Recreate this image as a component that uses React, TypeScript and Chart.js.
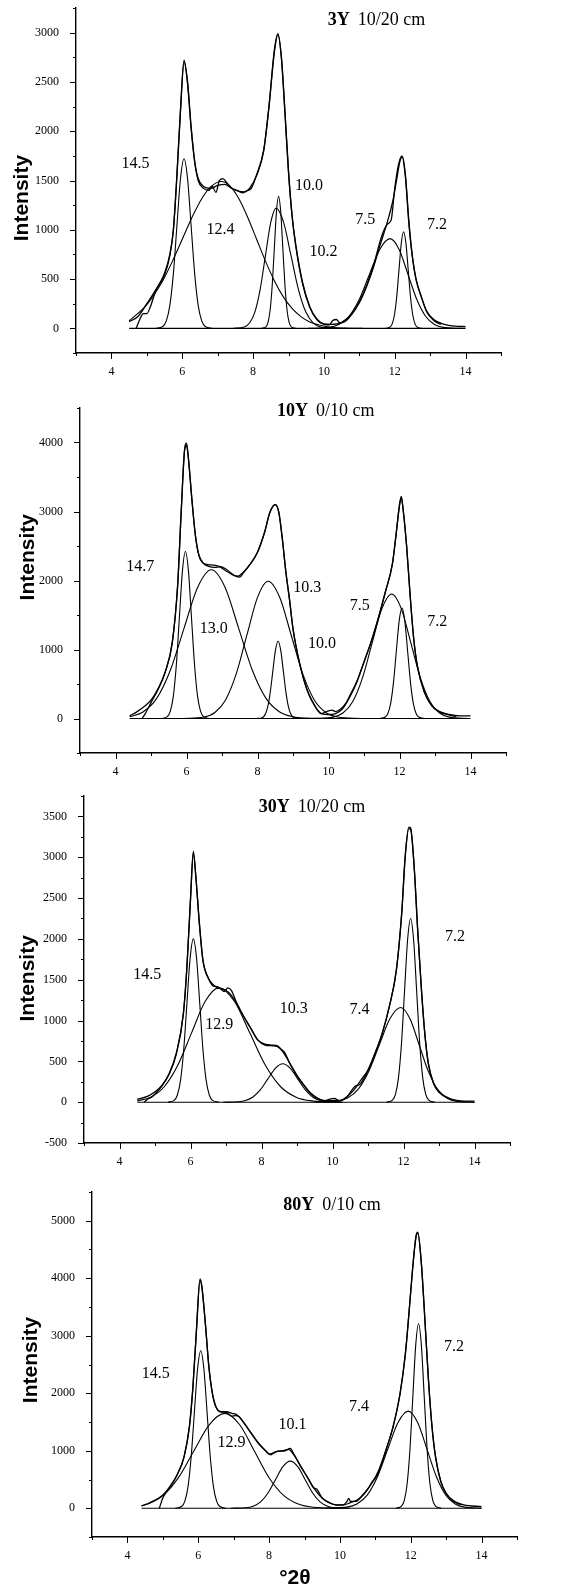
import React, { useEffect, useRef } from 'react';
import { Chart, registerables } from 'chart.js';
Chart.register(...registerables);

type P = [number, number];
type L = [string, number, number];

// ---------- Panel 1 : 3Y 10/20 cm ----------
const p1Title: [string, string] = ['3Y', '10/20 cm'];
const p1YLabels = [0, 500, 1000, 1500, 2000, 2500, 3000];
const p1Meas: P[] = [[4.7,0],[4.8,90],[4.9,150],[5.0,150],[5.1,220],[5.25,380],[5.5,540],[5.65,740],[5.75,1000],[5.85,1560],[5.95,2220],[6.05,2720],[6.15,2480],[6.25,2030],[6.35,1690],[6.45,1500],[6.6,1420],[6.75,1400],[6.85,1440],[6.95,1380],[7.05,1500],[7.15,1520],[7.25,1480],[7.4,1420],[7.55,1400],[7.7,1375],[7.85,1400],[7.95,1420],[8.1,1560],[8.3,1810],[8.45,2260],[8.6,2820],[8.7,2990],[8.8,2740],[8.9,2180],[9.0,1580],[9.1,1140],[9.2,850],[9.4,450],[9.6,215],[9.8,90],[10.0,40],[10.15,35],[10.25,80],[10.35,90],[10.45,55],[10.6,70],[10.8,150],[11.0,270],[11.2,430],[11.4,640],[11.6,900],[11.7,1000],[11.8,1060],[11.9,1100],[12.0,1420],[12.1,1650],[12.2,1750],[12.3,1540],[12.4,1060],[12.5,720],[12.6,500],[12.75,320],[12.9,170],[13.1,80],[13.3,40]];
const p1Fit: P[] = [[4.5,68],[4.75,120],[5.0,250],[5.25,390],[5.5,560],[5.65,750],[5.75,1000],[5.85,1550],[5.95,2200],[6.05,2700],[6.15,2500],[6.25,2050],[6.35,1700],[6.45,1520],[6.6,1440],[6.8,1420],[7.0,1450],[7.2,1460],[7.4,1420],[7.6,1390],[7.75,1385],[7.9,1420],[8.1,1550],[8.3,1800],[8.45,2250],[8.6,2800],[8.7,2980],[8.8,2750],[8.9,2200],[9.0,1600],[9.1,1150],[9.2,860],[9.4,460],[9.6,220],[9.8,95],[10.0,45],[10.2,40],[10.5,60],[10.8,150],[11.0,260],[11.2,420],[11.4,620],[11.6,860],[11.8,1090],[11.95,1300],[12.05,1500],[12.15,1700],[12.22,1740],[12.3,1560],[12.4,1080],[12.5,720],[12.6,500],[12.75,320],[12.9,175],[13.1,90],[13.4,40],[13.7,22],[14.0,18]];
const p1C145: P[] = [[5.25,0],[5.45,19],[5.55,76],[5.65,233],[5.75,558],[5.85,1043],[5.95,1518],[6.05,1720],[6.15,1518],[6.25,1043],[6.35,558],[6.45,233],[6.55,76],[6.65,19],[6.85,0]];
const p1C124: P[] = [[4.5,75],[5.0,241],[5.45,484],[5.75,702],[6.0,904],[6.3,1144],[6.55,1315],[6.8,1435],[7.1,1490],[7.35,1444],[7.6,1315],[7.85,1125],[8.1,904],[8.35,682],[8.6,484],[8.85,322],[9.1,202],[9.35,119],[9.6,65],[10.1,17],[10.6,3],[11.1,0]];
const p1C100: P[] = [[8.24,0],[8.36,15],[8.42,59],[8.48,181],[8.54,435],[8.6,813],[8.66,1183],[8.72,1340],[8.78,1183],[8.84,813],[8.9,435],[8.96,181],[9.02,59],[9.08,15],[9.2,0]];
const p1C102: P[] = [[7.45,0],[7.75,14],[7.9,54],[8.05,165],[8.2,396],[8.35,740],[8.5,1077],[8.65,1220],[8.86,1077],[9.07,740],[9.28,396],[9.49,165],[9.7,54],[9.91,14],[10.33,0]];
const p1C75: P[] = [[9.55,0],[10.13,10],[10.42,40],[10.71,123],[11.0,295],[11.29,552],[11.58,803],[11.87,910],[12.12,803],[12.37,552],[12.62,295],[12.87,123],[13.12,40],[13.37,10],[13.87,0]];
const p1C72: P[] = [[11.73,0],[11.86,11],[11.925,43],[11.99,133],[12.055,318],[12.12,594],[12.185,865],[12.25,980],[12.315,865],[12.38,594],[12.445,318],[12.51,133],[12.575,43],[12.64,11],[12.77,0]];
const p1Base: P[] = [[4.5,0],[14,0]];
const p1Labels: L[] = [['14.5',4.68,1668],['12.4',7.08,1000],['10.0',9.58,1447],['10.2',9.99,780],['7.5',11.17,1102],['7.2',13.19,1051]];

// ---------- Panel 2 : 10Y 0/10 cm ----------
const p2Title: [string, string] = ['10Y', '0/10 cm'];
const p2YLabels = [0, 1000, 2000, 3000, 4000];
const p2Meas: P[] = [[4.75,0],[4.85,80],[5.0,230],[5.2,420],[5.4,670],[5.6,1100],[5.75,1920],[5.85,2990],[5.95,3920],[6.0,3990],[6.05,3800],[6.15,3190],[6.25,2660],[6.35,2370],[6.5,2240],[6.65,2200],[6.8,2190],[6.95,2200],[7.1,2170],[7.25,2110],[7.4,2060],[7.5,2050],[7.6,2110],[7.8,2240],[8.0,2410],[8.2,2700],[8.35,2990],[8.5,3100],[8.6,2990],[8.7,2600],[8.8,2120],[8.9,1730],[9.0,1300],[9.2,770],[9.4,410],[9.6,200],[9.7,110],[9.8,70],[9.9,90],[10.0,110],[10.1,120],[10.2,100],[10.35,140],[10.5,230],[10.6,330],[10.8,540],[11.0,820],[11.2,1110],[11.4,1450],[11.6,1830],[11.8,2240],[11.9,2650],[12.0,3100],[12.05,3220],[12.1,3040],[12.2,2500],[12.3,1780],[12.4,1160],[12.5,770],[12.7,380],[12.9,190],[13.1,100],[13.4,50],[13.6,30]];
const p2Fit: P[] = [[4.4,39],[4.6,96],[4.8,169],[5.0,265],[5.2,434],[5.4,675],[5.6,1108],[5.75,1928],[5.85,2988],[5.95,3900],[6.0,3960],[6.05,3783],[6.15,3181],[6.25,2651],[6.35,2361],[6.5,2241],[6.7,2226],[6.9,2207],[7.1,2145],[7.3,2082],[7.45,2063],[7.6,2120],[7.8,2241],[8.0,2410],[8.2,2699],[8.35,2988],[8.5,3100],[8.6,2988],[8.7,2602],[8.8,2120],[8.9,1735],[9.0,1301],[9.2,771],[9.4,410],[9.6,193],[9.8,72],[10.0,58],[10.2,72],[10.4,145],[10.6,313],[10.8,530],[11.0,819],[11.2,1108],[11.4,1446],[11.6,1831],[11.8,2241],[11.9,2651],[12.0,3084],[12.05,3205],[12.1,3036],[12.2,2506],[12.3,1783],[12.4,1157],[12.5,771],[12.7,386],[12.9,193],[13.1,106],[13.4,58],[13.7,39],[14.0,39]];
const p2C147: P[] = [[5.29,0],[5.46,27],[5.545,106],[5.63,327],[5.715,786],[5.8,1468],[5.885,2136],[5.97,2420],[6.055,2136],[6.14,1468],[6.225,786],[6.31,327],[6.395,106],[6.48,27],[6.65,0]];
const p2C130: P[] = [[4.4,25],[4.775,95],[5.16,292],[5.545,700],[5.93,1307],[6.315,1902],[6.7,2155],[7.085,1902],[7.47,1307],[7.855,700],[8.24,292],[8.625,95],[9.01,24],[9.395,5],[9.78,0]];
const p2C103: P[] = [[5.9,0],[6.5,22],[6.8,87],[7.1,269],[7.4,646],[7.7,1207],[8.0,1756],[8.3,1990],[8.625,1756],[8.95,1207],[9.275,646],[9.6,269],[9.925,87],[10.25,22],[10.9,0]];
const p2C100: P[] = [[7.98,0],[8.13,12],[8.205,49],[8.28,152],[8.355,364],[8.43,679],[8.505,988],[8.58,1120],[8.655,988],[8.73,679],[8.805,364],[8.88,152],[8.955,49],[9.03,12],[9.18,0]];
const p2C75: P[] = [[9.58,0],[10.13,20],[10.405,79],[10.68,244],[10.955,586],[11.23,1095],[11.505,1593],[11.78,1805],[12.05,1593],[12.32,1095],[12.59,586],[12.86,244],[13.13,79],[13.4,20],[13.94,0]];
const p2C72: P[] = [[11.43,0],[11.59,18],[11.67,70],[11.75,216],[11.83,520],[11.91,970],[11.99,1412],[12.07,1600],[12.15,1412],[12.23,970],[12.31,520],[12.39,216],[12.47,70],[12.55,18],[12.71,0]];
const p2Base: P[] = [[4.4,0],[14,0]];
const p2Labels: L[] = [['14.7',4.7,2193],['13.0',6.77,1301],['10.3',9.4,1889],['10.0',9.82,1084],['7.5',10.88,1639],['7.2',13.06,1398]];

// ---------- Panel 3 : 30Y 10/20 cm ----------
const p3Title: [string, string] = ['30Y', '10/20 cm'];
const p3YLabels = [-500, 0, 500, 1000, 1500, 2000, 2500, 3000, 3500];
const p3Meas: P[] = [[4.7,0],[4.8,40],[4.9,60],[5.0,100],[5.2,200],[5.4,345],[5.6,590],[5.8,1085],[5.9,1665],[6.0,2490],[6.08,3070],[6.15,2770],[6.25,2190],[6.35,1740],[6.5,1520],[6.65,1420],[6.75,1415],[6.85,1390],[6.95,1355],[7.05,1400],[7.15,1370],[7.3,1215],[7.5,1050],[7.7,900],[7.9,760],[8.1,710],[8.3,700],[8.45,690],[8.55,650],[8.65,610],[8.8,470],[9.0,320],[9.2,200],[9.4,100],[9.6,40],[9.8,20],[9.95,40],[10.05,45],[10.2,20],[10.4,60],[10.55,150],[10.65,200],[10.75,210],[10.9,300],[11.0,390],[11.2,600],[11.4,840],[11.6,1170],[11.8,1620],[11.95,2320],[12.05,3030],[12.15,3370],[12.2,3360],[12.3,2880],[12.4,2100],[12.5,1410],[12.6,840],[12.7,470],[12.85,225],[13.0,120],[13.3,40],[13.6,10]];
const p3Fit: P[] = [[4.5,33],[4.8,74],[5.0,127],[5.2,208],[5.4,352],[5.6,600],[5.8,1090],[5.9,1660],[6.0,2480],[6.08,3050],[6.15,2760],[6.25,2190],[6.35,1740],[6.5,1520],[6.65,1435],[6.8,1395],[6.95,1380],[7.1,1335],[7.3,1210],[7.5,1050],[7.7,905],[7.9,760],[8.1,700],[8.3,690],[8.45,680],[8.6,620],[8.8,475],[9.0,330],[9.2,210],[9.4,106],[9.6,45],[9.8,16],[10.0,20],[10.2,16],[10.4,65],[10.6,147],[10.8,270],[11.0,392],[11.2,600],[11.4,842],[11.6,1170],[11.8,1620],[11.95,2310],[12.05,3010],[12.15,3350],[12.2,3340],[12.3,2890],[12.4,2110],[12.5,1415],[12.6,842],[12.7,474],[12.85,229],[13.0,127],[13.3,45],[13.6,16],[14.0,12]];
const p3C145: P[] = [[5.36,0],[5.54,22],[5.63,88],[5.72,271],[5.81,649],[5.9,1213],[5.99,1765],[6.08,2000],[6.17,1765],[6.26,1213],[6.35,649],[6.44,271],[6.53,88],[6.62,22],[6.8,0]];
const p3C129: P[] = [[4.5,16],[4.875,61],[5.26,189],[5.645,455],[6.03,849],[6.415,1236],[6.8,1400],[7.235,1236],[7.67,849],[8.105,455],[8.54,189],[8.975,61],[9.41,16],[10.28,0]];
const p3C103: P[] = [[6.92,0],[7.34,5],[7.55,21],[7.76,64],[7.97,153],[8.18,285],[8.39,415],[8.6,470],[8.81,415],[9.02,285],[9.23,153],[9.44,64],[9.65,21],[9.86,5],[10.28,0]];
const p3C74: P[] = [[9.52,0],[10.12,13],[10.42,51],[10.72,157],[11.02,377],[11.32,704],[11.62,1024],[11.92,1160],[12.18,1024],[12.44,704],[12.7,377],[12.96,157],[13.22,51],[13.48,13],[14.0,0]];
const p3C72: P[] = [[11.52,0],[11.69,25],[11.775,99],[11.86,304],[11.945,731],[12.03,1365],[12.115,1986],[12.2,2250],[12.285,1986],[12.37,1365],[12.455,731],[12.54,304],[12.625,99],[12.71,25],[12.88,0]];
const p3Base: P[] = [[4.5,0],[14,0]];
const p3Labels: L[] = [['14.5',4.78,1558],['12.9',6.81,944],['10.3',8.91,1149],['7.4',10.76,1137],['7.2',13.45,2020]];

// ---------- Panel 4 : 80Y 0/10 cm ----------
const p4Title: [string, string] = ['80Y', '0/10 cm'];
const p4YLabels = [0, 1000, 2000, 3000, 4000, 5000];
const p4Meas: P[] = [[4.9,0],[5.0,180],[5.2,370],[5.4,575],[5.6,895],[5.75,1415],[5.85,2110],[5.95,3110],[6.05,3990],[6.1,3870],[6.2,3220],[6.3,2460],[6.4,1995],[6.5,1760],[6.65,1670],[6.8,1665],[6.95,1600],[7.05,1610],[7.15,1595],[7.3,1475],[7.5,1300],[7.7,1130],[7.9,1000],[8.0,940],[8.1,960],[8.25,990],[8.45,1000],[8.6,1040],[8.7,940],[8.9,720],[9.1,520],[9.25,360],[9.35,330],[9.5,180],[9.7,95],[9.9,55],[10.1,60],[10.2,120],[10.25,170],[10.3,120],[10.45,120],[10.6,200],[10.8,350],[10.9,450],[11.0,520],[11.1,640],[11.3,1010],[11.5,1410],[11.7,2000],[11.85,2700],[11.95,3400],[12.05,4150],[12.15,4740],[12.2,4800],[12.3,4250],[12.4,3270],[12.5,2230],[12.6,1420],[12.7,890],[12.85,460],[13.0,255],[13.2,125],[13.4,60]];
const p4Fit: P[] = [[4.4,41],[4.6,87],[4.8,145],[5.0,232],[5.2,377],[5.4,579],[5.6,898],[5.75,1419],[5.85,2115],[5.95,3100],[6.05,3969],[6.1,3853],[6.2,3216],[6.3,2462],[6.4,1999],[6.5,1767],[6.65,1680],[6.8,1680],[6.95,1651],[7.1,1622],[7.3,1477],[7.5,1304],[7.7,1130],[7.9,1002],[8.05,930],[8.2,985],[8.4,1002],[8.55,1025],[8.7,927],[8.9,724],[9.1,521],[9.3,319],[9.5,174],[9.7,98],[9.9,58],[10.1,58],[10.3,98],[10.5,145],[10.7,261],[10.9,435],[11.1,666],[11.3,1014],[11.5,1419],[11.7,1999],[11.85,2694],[11.95,3389],[12.05,4143],[12.15,4722],[12.2,4780],[12.3,4258],[12.4,3273],[12.5,2231],[12.6,1419],[12.7,898],[12.85,463],[13.0,261],[13.2,133],[13.5,58],[14.0,29]];
const p4C145: P[] = [[5.35,0],[5.53,30],[5.62,120],[5.71,371],[5.8,890],[5.89,1662],[5.98,2418],[6.07,2740],[6.16,2418],[6.25,1662],[6.34,890],[6.43,371],[6.52,120],[6.61,30],[6.79,0]];
const p4C129: P[] = [[4.4,43],[4.575,72],[5.01,223],[5.445,536],[5.88,1001],[6.315,1456],[6.75,1650],[7.165,1456],[7.58,1001],[7.995,536],[8.41,223],[8.825,72],[9.24,18],[10.07,0]];
const p4C101: P[] = [[6.92,0],[7.34,9],[7.55,36],[7.76,111],[7.97,266],[8.18,497],[8.39,724],[8.6,820],[8.81,724],[9.02,497],[9.23,266],[9.44,111],[9.65,36],[9.86,9],[10.28,0]];
const p4C74: P[] = [[9.61,0],[10.19,19],[10.48,74],[10.77,229],[11.06,549],[11.35,1025],[11.64,1491],[11.93,1690],[12.195,1491],[12.46,1025],[12.725,549],[12.99,229],[13.255,74],[13.52,19],[14.0,1]];
const p4C72: P[] = [[11.58,0],[11.74,36],[11.82,141],[11.9,434],[11.98,1042],[12.06,1947],[12.14,2833],[12.22,3210],[12.3,2833],[12.38,1947],[12.46,1042],[12.54,434],[12.62,141],[12.7,36],[12.86,0]];
const p4Base: P[] = [[4.4,0],[14,0]];
const p4Labels: L[] = [['14.5',4.8,2346],['12.9',6.94,1130],['10.1',8.66,1448],['7.4',10.54,1767],['7.2',13.22,2810]];

const xLabels = [4, 6, 8, 10, 12, 14];
const xAxisTitle = '°2θ';
const yAxisTitle = 'Intensity';

// ---------- layout (not data) ----------
type PanelCfg = {
  top: number; h: number;
  area: { left: number; right: number; top: number; bottom: number };
  yMin: number; yMax: number; yMinor: number; yLabels: number[];
  curves: P[][]; thick: P[][];
  labels: L[]; title: [string, string]; titleAt: [number, number];
  yTitle: [number, number]; xTitle?: [number, number];
};

// area values are page coordinates; converted to canvas-relative in Panel
const PANELS: PanelCfg[] = [
  { top: 0, h: 400, area: { left: 76, right: 501, top: 8, bottom: 353 },
    yMin: -250, yMax: 3250, yMinor: 250, yLabels: p1YLabels,
    curves: [p1Base, p1C145, p1C124, p1C100, p1C102, p1C75, p1C72], thick: [p1Fit, p1Meas],
    labels: p1Labels, title: p1Title, titleAt: [10.11, 3129], yTitle: [-54, 1322] },
  { top: 385, h: 405, area: { left: 80, right: 506, top: 408, bottom: 753 },
    yMin: -500, yMax: 4500, yMinor: 500, yLabels: p2YLabels,
    curves: [p2Base, p2C147, p2C130, p2C103, p2C100, p2C75, p2C72], thick: [p2Fit, p2Meas],
    labels: p2Labels, title: p2Title, titleAt: [8.55, 4448], yTitle: [-52, 2337] },
  { top: 775, h: 410, area: { left: 84, right: 510, top: 796, bottom: 1143 },
    yMin: -500, yMax: 3750, yMinor: 250, yLabels: p3YLabels,
    curves: [p3Base, p3C145, p3C129, p3C103, p3C74, p3C72], thick: [p3Fit, p3Meas],
    labels: p3Labels, title: p3Title, titleAt: [7.92, 3614], yTitle: [-56, 1517] },
  { top: 1175, h: 419, area: { left: 92, right: 517, top: 1192, bottom: 1537 },
    yMin: -500, yMax: 5500, yMinor: 500, yLabels: p4YLabels,
    curves: [p4Base, p4C145, p4C129, p4C101, p4C74, p4C72], thick: [p4Fit, p4Meas],
    labels: p4Labels, title: p4Title, titleAt: [8.4, 5272], yTitle: [-61, 2578], xTitle: [8.73, 41] },
];

const SERIF = '"Liberation Serif", "Times New Roman", serif';
const SANS = '"Liberation Sans", Arial, sans-serif';
const Y_W = 60;
const X_H = 34;

function Panel({ cfg }: { cfg: PanelCfg }) {
  const ref = useRef<HTMLCanvasElement | null>(null);
  useEffect(() => {
    if (!ref.current) return;
    const toXY = (a: P[]) => a.map(([x, y]) => ({ x, y }));
    const datasets: any[] = [];
    cfg.curves.forEach((c) => datasets.push({
      data: toXY(c), borderColor: '#000', borderWidth: 1.1, pointRadius: 0,
      cubicInterpolationMode: 'monotone', fill: false,
    }));
    cfg.thick.forEach((c) => datasets.push({
      data: toXY(c), borderColor: '#000', borderWidth: 1.3, pointRadius: 0,
      cubicInterpolationMode: 'monotone', fill: false,
    }));
    const deco = {
      id: 'deco',
      afterDraw(chart: any) {
        const { ctx, chartArea, scales } = chart;
        const xs = scales.x, ys = scales.y;
        ctx.save();
        ctx.strokeStyle = '#000';
        ctx.lineWidth = 1;
        for (let v = 3; v <= 15; v += 1) {
          const px = Math.round(xs.getPixelForValue(v)) + 0.5;
          const len = v % 2 === 0 ? 6 : 3;
          ctx.beginPath(); ctx.moveTo(px, chartArea.bottom); ctx.lineTo(px, chartArea.bottom + len); ctx.stroke();
        }
        for (let v = cfg.yMin; v <= cfg.yMax; v += cfg.yMinor) {
          const py = Math.round(ys.getPixelForValue(v)) + 0.5;
          const len = cfg.yLabels.includes(v) ? 6 : 3;
          ctx.beginPath(); ctx.moveTo(chartArea.left - len, py); ctx.lineTo(chartArea.left, py); ctx.stroke();
        }
        ctx.fillStyle = '#000';
        ctx.textBaseline = 'middle';
        ctx.textAlign = 'center';
        ctx.font = `16px ${SERIF}`;
        cfg.labels.forEach(([t, x, y]) => ctx.fillText(t, xs.getPixelForValue(x), ys.getPixelForValue(y)));
        // title
        const tx = xs.getPixelForValue(cfg.titleAt[0]);
        const ty = ys.getPixelForValue(cfg.titleAt[1]);
        ctx.textAlign = 'left';
        ctx.font = `bold 18px ${SERIF}`;
        ctx.fillText(cfg.title[0], tx, ty);
        const w = ctx.measureText(cfg.title[0]).width;
        ctx.font = `18px ${SERIF}`;
        ctx.fillText(cfg.title[1], tx + w + 8, ty);
        // y axis title
        ctx.save();
        ctx.translate(chartArea.left + cfg.yTitle[0], ys.getPixelForValue(cfg.yTitle[1]));
        ctx.rotate(-Math.PI / 2);
        ctx.textAlign = 'center';
        ctx.font = `bold 21px ${SANS}`;
        ctx.fillText(yAxisTitle, 0, 0);
        ctx.restore();
        if (cfg.xTitle) {
          ctx.textAlign = 'center';
          ctx.font = `bold 21px ${SANS}`;
          ctx.fillText(xAxisTitle, xs.getPixelForValue(cfg.xTitle[0]), chartArea.bottom + cfg.xTitle[1]);
        }
        ctx.restore();
      },
    };
    const a = cfg.area;
    const top = a.top - cfg.top;
    const bottom = a.bottom - cfg.top;
    const chart = new Chart(ref.current, {
      type: 'line',
      data: { datasets },
      options: {
        animation: false,
        responsive: false,
        devicePixelRatio: 1,
        layout: { padding: { left: a.left - Y_W, right: 579 - a.right, top, bottom: cfg.h - bottom - X_H } },
        plugins: { legend: { display: false }, tooltip: { enabled: false }, title: { display: false } },
        scales: {
          x: {
            type: 'linear', position: 'bottom', min: 3, max: 15,
            afterFit: (s: any) => { s.height = X_H; s.paddingLeft = 0; s.paddingRight = 0; },
            grid: { display: false, drawTicks: false },
            border: { display: true, color: '#000', width: 1.4 },
            ticks: {
              stepSize: 1, autoSkip: false, maxRotation: 0, padding: 12, color: '#000',
              font: { family: SERIF, size: 12 },
              callback: (v: any) => (xLabels.includes(Number(v)) ? String(v) : ''),
            },
          },
          y: {
            type: 'linear', position: 'left', min: cfg.yMin, max: cfg.yMax,
            afterFit: (s: any) => { s.width = Y_W; s.paddingTop = 0; s.paddingBottom = 0; },
            grid: { display: false, drawTicks: false },
            border: { display: true, color: '#000', width: 1.4 },
            ticks: {
              stepSize: cfg.yMinor, autoSkip: false, padding: 17, color: '#000',
              font: { family: SERIF, size: 12 },
              callback: (v: any) => (cfg.yLabels.includes(Number(v)) ? String(v) : ''),
            },
          },
        },
      } as any,
      plugins: [deco],
    });
    return () => chart.destroy();
  }, [cfg]);
  return (
    <canvas ref={ref} width={579} height={cfg.h}
      style={{ position: 'absolute', left: 0, top: cfg.top, width: 579, height: cfg.h }} />
  );
}

export default function App() {
  return (
    <div style={{ position: 'absolute', left: 0, top: 0, width: 579, height: 1594, background: '#fff' }}>
      {PANELS.map((p, i) => <Panel key={i} cfg={p} />)}
    </div>
  );
}
